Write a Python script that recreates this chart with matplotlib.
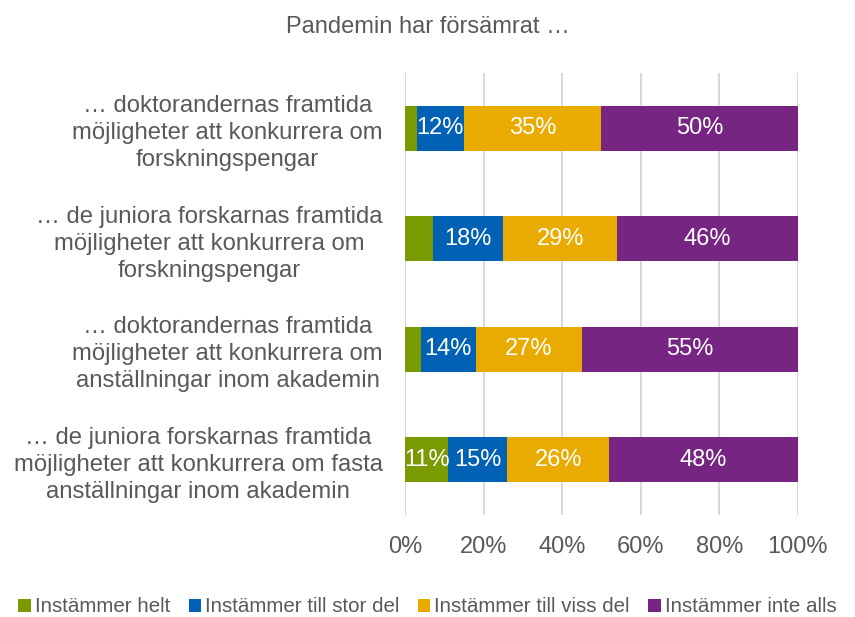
import matplotlib.pyplot as plt
import numpy as np

plt.rcParams['font.family'] = ['Liberation Sans', 'DejaVu Sans']

categories = [
    "… doktorandernas framtida\nmöjligheter att konkurrera om\nforskningspengar",
    "… de juniora forskarnas framtida\nmöjligheter att konkurrera om\nforskningspengar",
    "… doktorandernas framtida\nmöjligheter att konkurrera om\nanställningar inom akademin",
    "… de juniora forskarnas framtida\nmöjligheter att konkurrera om fasta\nanställningar inom akademin",
]
series = ["Instämmer helt", "Instämmer till stor del", "Instämmer till viss del", "Instämmer inte alls"]
helt = [3, 7, 4, 11]
stor = [12, 18, 14, 15]
viss = [35, 29, 27, 26]
inte = [50, 46, 55, 48]
colors = ["#7A9A01", "#0061B5", "#EAAB00", "#772583"]
text_col = "#595959"

fig = plt.figure(figsize=(8.55, 6.17), dpi=100)
ax = fig.add_axes([0.4737, 0.1653, 0.4596, 0.7164])

y = np.arange(len(categories))
left = np.zeros(len(categories))
for name, vals, c in zip(series, [helt, stor, viss, inte], colors):
    vals = np.array(vals, dtype=float)
    bars = ax.barh(y, vals, left=left, height=0.41, color=c, label=name, zorder=3)
    for b, v in zip(bars, vals):
        if v >= 10:
            ax.text(b.get_x() + b.get_width() / 2, b.get_y() + b.get_height() / 2,
                    f"{v:.0f}%", ha='center', va='center', color='white', fontsize=17, zorder=4)
    left += vals

ax.set_xlim(0, 100)
ax.set_ylim(len(categories) - 0.5, -0.5)
ax.set_xticks(np.arange(0, 101, 20))
ax.set_xticklabels([f"{t}%" for t in range(0, 101, 20)], fontsize=17, color=text_col)
ax.set_yticks(y)
ax.set_yticklabels(categories, fontsize=17.2, color=text_col)
for lbl in ax.get_yticklabels():
    lbl.set_multialignment('center')
    lbl.set_linespacing(1.3)
ax.tick_params(axis='both', length=0)
ax.tick_params(axis='y', pad=16)
ax.tick_params(axis='x', pad=15)
ax.grid(axis='x', color='#D9D9D9', linewidth=1.5, zorder=0)
for s in ax.spines.values():
    s.set_visible(False)

fig.text(0.5, 1 - 27 / 617, "Pandemin har försämrat …", ha='center', va='center',
         fontsize=17, color=text_col)

fig.legend(loc='center', bbox_to_anchor=(0.5, 1 - 607 / 617), ncol=4, frameon=False,
           handlelength=0.6, handleheight=0.6, handletextpad=0.2, columnspacing=0.9,
           fontsize=14.8, labelcolor=text_col)

fig.savefig("out.png", dpi=100)
